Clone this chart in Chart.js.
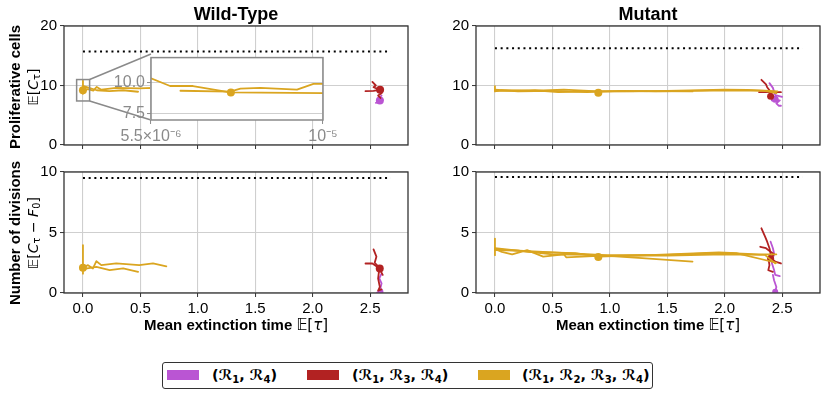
<!DOCTYPE html>
<html><head><meta charset="utf-8">
<script src="https://cdn.jsdelivr.net/npm/chart.js@4.4.0/dist/chart.umd.min.js"></script>
<style>
body{margin:0;background:#fff;}
#fig{position:relative;width:830px;height:398px;overflow:hidden;background:#fff;font-family:"Liberation Sans",Arial,sans-serif;color:#000;}
canvas{position:absolute;}
.t{position:absolute;white-space:nowrap;transform:translate(-50%,-50%);}
.title{font-weight:bold;font-size:18px;}
.xlab{font-weight:bold;font-size:15px;}
.ylab{font-weight:bold;font-size:15px;transform:translate(-50%,-50%) rotate(-90deg);}
.ymath{font-family:"DejaVu Sans",sans-serif;font-size:14px;transform:translate(-50%,-50%) rotate(-90deg);}
.m{font-family:"DejaVu Sans",sans-serif;font-weight:normal;}
.it{font-style:italic;}
sub{font-size:70%;vertical-align:-0.25em;line-height:0;}
#legend{position:absolute;left:162px;top:362px;width:489px;height:25px;border:1.3px solid #333;border-radius:3px;}
.sw{position:absolute;width:32px;height:10px;}
.lt{position:absolute;font-family:"DejaVu Sans",sans-serif;font-weight:bold;font-size:14.5px;white-space:nowrap;transform:translateY(-50%);}
</style></head>
<body>
<div id="fig">
  <canvas id="cTL"></canvas><canvas id="cTR"></canvas><canvas id="cBL"></canvas><canvas id="cBR"></canvas>
  <canvas id="cInset"></canvas>
  <div class="t title" style="left:236px;top:14px;">Wild-Type</div>
  <div class="t title" style="left:648px;top:14px;">Mutant</div>
  <div class="t ylab" style="left:13.5px;top:87px;">Proliferative cells</div>
  <div class="t ymath" style="left:33px;top:87px;">𝔼[<span class="it">C</span><sub>τ</sub>]</div>
  <div class="t ylab" style="left:13.5px;top:233px;">Number of divisions</div>
  <div class="t ymath" style="left:33px;top:233px;">𝔼[<span class="it">C</span><sub>τ</sub> − <span class="it">F</span><sub>0</sub>]</div>
  <div class="t xlab" style="left:236px;top:325px;">Mean extinction time <span class="m">𝔼[<span class="it">τ</span>]</span></div>
  <div class="t xlab" style="left:648px;top:325px;">Mean extinction time <span class="m">𝔼[<span class="it">τ</span>]</span></div>
  <div id="legend"></div>
  <span class="sw" style="left:167px;top:370px;background:#BA55D3"></span>
  <span class="lt" style="left:212px;top:375px;">(ℛ<sub>1</sub>, ℛ<sub>4</sub>)</span>
  <span class="sw" style="left:307px;top:370px;background:#B22222"></span>
  <span class="lt" style="left:352px;top:375px;">(ℛ<sub>1</sub>, ℛ<sub>3</sub>, ℛ<sub>4</sub>)</span>
  <span class="sw" style="left:478px;top:370px;background:#DAA520"></span>
  <span class="lt" style="left:522px;top:375px;">(ℛ<sub>1</sub>, ℛ<sub>2</sub>, ℛ<sub>3</sub>, ℛ<sub>4</sub>)</span>
</div>
<script>
// ---------------- data ----------------
const X_TICKS = [0, 0.5, 1.0, 1.5, 2.0, 2.5];
const X_TICK_LABELS = ['0.0', '0.5', '1.0', '1.5', '2.0', '2.5'];
const Y_TICKS_CELLS = [0, 10, 20];
const Y_TICK_LABELS_CELLS = ['0', '10', '20'];
const Y_TICKS_DIV = [0, 5, 10];
const Y_TICK_LABELS_DIV = ['0', '5', '10'];
const INSET_X_TICKS = [5.5e-6, 1e-5];
const INSET_X_TICK_LABELS = ['5.5×10⁻⁶', '10⁻⁵'];
const INSET_Y_TICKS = [7.5, 10.0];
const INSET_Y_TICK_LABELS = ['7.5', '10.0'];

const thresholdX = [0, 2.68];
const wtCellsThreshold = 15.7;
const mutCellsThreshold = 16.25;
const wtDivThreshold = 9.5;
const mutDivThreshold = 9.58;

// Wild-type, proliferative cells
const wtCellsGoldA = [[0,10.8],[5.5e-6,10.37],[6.0e-6,9.74],[6.6e-6,9.74],[7.57e-6,9.22],[1.0e-5,9.16],[0.04,9.4],[0.09,9.15],[0.12,9.75],[0.16,9.3],[0.29,9.6],[0.49,9.5],[0.61,9.6],[0.73,9.4]];
const wtCellsGoldB = [[6.27e-6,9.35],[7.57e-6,9.28],[7.84e-6,9.53],[8.36e-6,9.59],[9.32e-6,9.45],[9.75e-6,9.92],[0.12,9.2],[0.23,9.05],[0.35,9.2],[0.48,8.95]];
const wtCellsGoldC = [[0,8.6],[1e-6,9.3]];
const wtCellsGoldMark = [7.59e-6, 9.2];
const wtCellsRedA = [[2.46,9.05],[2.53,9.1],[2.587,9.3]];
const wtCellsRedB = [[2.52,10.6],[2.55,10.0],[2.53,9.7],[2.57,9.4],[2.60,8.7],[2.57,8.3],[2.59,7.9]];
const wtCellsRedMark = [2.587, 9.3];
const wtCellsPurpleA = [[2.55,7.1],[2.59,7.3],[2.61,7.6],[2.58,8.0],[2.60,8.3]];
const wtCellsPurpleMark = [2.585, 7.5];

// Wild-type, number of divisions
const wtDivGoldA = [[0,2.1],[0.044,2.3],[0.087,2.03],[0.117,2.63],[0.16,2.3],[0.29,2.44],[0.49,2.3],[0.61,2.44],[0.726,2.2]];
const wtDivGoldB = [[0.01,2.0],[0.117,2.16],[0.233,1.89],[0.35,2.03],[0.48,1.75]];
const wtDivGoldC = [[0,3.96],[1e-6,1.6]];
const wtDivGoldMark = [7.59e-6, 2.08];
const wtDivRedA = [[2.46,2.44],[2.52,2.44],[2.584,2.03]];
const wtDivRedB = [[2.53,3.6],[2.555,3.0],[2.54,2.5],[2.57,2.2],[2.61,1.5]];
const wtDivRedC = [[2.58,2.0],[2.57,1.2],[2.585,0.5],[2.57,0.2],[2.6,0.3]];
const wtDivRedMark = [2.584, 2.03];
const wtDivPurpleA = [[2.6,1.6],[2.58,1.2],[2.6,0.8],[2.59,0.4],[2.6,0.05],[2.56,0.02]];
const wtDivPurpleMark = [2.59, 0.1];

// Mutant, proliferative cells
const mutCellsGoldA = [[0,9.9],[0,9.0],[0.05,9.2],[0.3,9.1],[0.6,9.3],[0.9,9.0],[1.2,9.0],[1.5,9.1],[1.8,9.2],[2.0,9.3],[2.2,9.25],[2.4,9.1],[2.46,9.0]];
const mutCellsGoldB = [[0,9.3],[0.2,9.0],[0.5,9.1],[0.8,8.9],[1.1,9.1],[1.4,9.0],[1.7,9.1],[2.1,9.2],[2.35,9.1],[2.45,8.7]];
const mutCellsGoldC = [[0,9.1],[0.35,9.2],[0.55,8.9],[0.85,9.0],[1.25,9.05],[1.72,9.0]];
const mutCellsGoldMark = [0.9, 8.8];
const mutCellsRedA = [[2.32,10.96],[2.36,10.2],[2.37,9.7],[2.39,9.2],[2.40,8.3],[2.41,7.8]];
const mutCellsRedB = [[2.30,8.87],[2.36,8.9],[2.42,8.87],[2.49,8.87]];
const mutCellsRedMark = [2.40, 8.2];
const mutCellsPurpleA = [[2.39,10.4],[2.42,9.6],[2.43,9.0],[2.44,8.4],[2.50,8.1]];
const mutCellsPurpleB = [[2.41,7.5],[2.48,7.5],[2.45,7.0],[2.47,6.6],[2.49,6.6]];
const mutCellsPurpleMark = [2.44, 7.7];

// Mutant, number of divisions
const mutDivGoldA = [[0,3.65],[0.06,3.4],[0.15,3.2],[0.28,3.55],[0.42,3.0],[0.6,3.2],[0.62,2.95],[0.85,3.05],[1.0,3.1],[1.5,3.15],[1.9,3.3],[2.05,3.3],[2.3,3.2],[2.45,3.2]];
const mutDivGoldB = [[0,3.6],[0.5,3.35],[1.0,3.1],[1.5,3.1],[2.0,3.2],[2.35,3.15],[2.44,2.45]];
const mutDivGoldC = [[0,3.55],[0.2,3.5],[0.5,3.2],[0.85,3.15],[1.25,2.9],[1.72,2.6]];
const mutDivGoldD = [[0,3.7],[0.3,3.4],[0.7,3.3],[0.9,3.0],[1.4,3.15],[1.95,3.35],[2.1,3.3],[2.45,2.5]];
const mutDivGoldE = [[0,4.5],[1e-6,3.13]];
const mutDivGoldMark = [0.9, 2.98];
const mutDivRedA = [[2.32,5.35],[2.35,4.7],[2.37,4.24],[2.39,3.7],[2.40,3.27],[2.38,2.9],[2.39,2.3],[2.38,1.88],[2.42,1.75]];
const mutDivRedB = [[2.31,3.82],[2.36,3.7],[2.40,3.4],[2.43,3.2],[2.40,2.9],[2.44,2.6],[2.49,2.44]];
const mutDivRedMark = [2.40, 2.86];
const mutDivPurpleA = [[2.40,4.24],[2.42,3.7],[2.43,3.27],[2.41,2.5],[2.43,1.9],[2.44,1.5],[2.48,1.4]];
const mutDivPurpleB = [[2.42,1.5],[2.43,1.05],[2.45,0.5],[2.44,0.1],[2.46,0.0]];
const mutDivPurpleMark = [2.44, 0.1];

// ---------------- styling / helpers ----------------
const PURPLE = '#BA55D3', RED = '#B22222', GOLD = '#DAA520';
const GRID = '#cfcfcf', SPINE = '#333333', INSET_GRAY = '#8a8a8a';
const FONT = '"Liberation Sans", Arial, sans-serif';
const X_MIN = -0.165, X_MAX = 2.83;
const INSET_BOX = {left: 151, top: 54, right: 323, bottom: 120};
const ZOOM_RECT = {x0: -0.055, x1: 0.058, y0: 7.4, y1: 11.0};

const pts = arr => arr.map(([x, y]) => ({x, y}));
const lineDs = (arr, color) => ({data: pts(arr), showLine: true, borderColor: color, backgroundColor: color, borderWidth: 1.8, pointRadius: 0, pointHoverRadius: 0, tension: 0, borderJoinStyle: 'round', borderCapStyle: 'round'});
const dotDs = (p, color, r) => ({data: pts([p]), showLine: false, pointRadius: r || 4, pointHoverRadius: r || 4, pointBackgroundColor: color, pointBorderWidth: 0, borderColor: color, backgroundColor: color});
const thrDs = y => ({data: pts(thresholdX.map(x => [x, y])), showLine: true, borderColor: '#000', borderWidth: 2, borderDash: [2, 3.7], pointRadius: 0, pointHoverRadius: 0});

const framePlugin = {
  id: 'frame',
  beforeDraw(chart, args, opts) {
    if (opts.bg) { const a = chart.chartArea, c = chart.ctx; c.save(); c.fillStyle = opts.bg; c.fillRect(a.left, a.top, a.right - a.left, a.bottom - a.top); c.restore(); }
  },
  afterDraw(chart, args, opts) {
    const a = chart.chartArea, c = chart.ctx;
    c.save(); c.strokeStyle = opts.color; c.lineWidth = opts.width;
    c.strokeRect(a.left, a.top, a.right - a.left, a.bottom - a.top); c.restore();
  }
};

function layoutCanvas(id, area, YW, PT, PR, XH) {
  const cv = document.getElementById(id);
  const W = YW + (area.right - area.left) + PR, H = PT + (area.bottom - area.top) + XH;
  cv.width = W; cv.height = H;
  cv.style.left = (area.left - YW) + 'px'; cv.style.top = (area.top - PT) + 'px';
  cv.style.width = W + 'px'; cv.style.height = H + 'px';
  return {cv, offX: area.left - YW, offY: area.top - PT};
}

function scaleCfg(opt) {
  return {
    type: 'linear', min: opt.min, max: opt.max,
    afterBuildTicks: s => { s.ticks = opt.ticks.map(v => ({value: v})); },
    afterFit: s => { if (opt.axis === 'x') s.height = opt.size; else s.width = opt.size; },
    grid: {color: opt.gridColor || GRID, lineWidth: 1.1, drawTicks: true, tickLength: 4, tickColor: opt.tickColor || SPINE, tickWidth: 1},
    border: {display: false},
    ticks: {display: opt.showLabels, color: opt.labelColor || '#000', font: {size: opt.fontSize || 15, family: FONT}, padding: opt.pad || 3, maxRotation: 0, autoSkip: false,
      callback: (v, i) => opt.labels[i]}
  };
}

function mainChart(id, area, yTicks, yLabels, yMax, showX, layers, extraPlugins) {
  const XH = showX ? 34 : 10;
  const {cv, offX, offY} = layoutCanvas(id, area, 48, 12, 14, XH);
  const datasets = layers.map((d, i) => Object.assign(d, {order: layers.length - i}));
  return new Chart(cv, {
    type: 'scatter',
    data: {datasets},
    options: {
      responsive: false, animation: false, devicePixelRatio: 1, events: [],
      layout: {padding: {top: 12, right: 14, left: 0, bottom: 0}},
      plugins: {legend: {display: false}, tooltip: {enabled: false}, frame: {color: SPINE, width: 1.3}, zoomind: {offX, offY}},
      scales: {
        x: scaleCfg({axis: 'x', min: X_MIN, max: X_MAX, ticks: X_TICKS, labels: X_TICK_LABELS, size: XH, showLabels: showX}),
        y: scaleCfg({axis: 'y', min: 0, max: yMax, ticks: yTicks, labels: yLabels, size: 48, showLabels: true})
      }
    },
    plugins: [framePlugin].concat(extraPlugins || [])
  });
}

const zoomIndicator = {
  id: 'zoomind',
  afterDatasetsDraw(chart, args, opts) {
    const c = chart.ctx, xs = chart.scales.x, ys = chart.scales.y;
    const l = xs.getPixelForValue(ZOOM_RECT.x0), r = xs.getPixelForValue(ZOOM_RECT.x1);
    const t = ys.getPixelForValue(ZOOM_RECT.y1), b = ys.getPixelForValue(ZOOM_RECT.y0);
    c.save(); c.strokeStyle = INSET_GRAY; c.lineWidth = 1.5;
    c.strokeRect(l, t, r - l, b - t);
    c.beginPath();
    c.moveTo(r, t); c.lineTo(INSET_BOX.left - opts.offX, INSET_BOX.top - opts.offY);
    c.moveTo(r, b); c.lineTo(INSET_BOX.left - opts.offX, INSET_BOX.bottom - opts.offY);
    c.stroke(); c.restore();
  }
};

// ---------------- charts ----------------
mainChart('cTL', {left: 64, right: 408, top: 26, bottom: 147}, Y_TICKS_CELLS, Y_TICK_LABELS_CELLS, 20, false, [
  thrDs(wtCellsThreshold),
  lineDs(wtCellsPurpleA, PURPLE), dotDs(wtCellsPurpleMark, PURPLE),
  lineDs(wtCellsRedA, RED), lineDs(wtCellsRedB, RED), dotDs(wtCellsRedMark, RED),
  lineDs(wtCellsGoldA, GOLD), lineDs(wtCellsGoldB, GOLD), lineDs(wtCellsGoldC, GOLD), dotDs(wtCellsGoldMark, GOLD)
], [zoomIndicator]);

mainChart('cTR', {left: 476, right: 820, top: 26, bottom: 147}, Y_TICKS_CELLS, Y_TICK_LABELS_CELLS, 20, false, [
  thrDs(mutCellsThreshold),
  lineDs(mutCellsPurpleA, PURPLE), lineDs(mutCellsPurpleB, PURPLE), dotDs(mutCellsPurpleMark, PURPLE, 3.5),
  lineDs(mutCellsRedA, RED), lineDs(mutCellsRedB, RED), dotDs(mutCellsRedMark, RED, 3.5),
  lineDs(mutCellsGoldA, GOLD), lineDs(mutCellsGoldB, GOLD), lineDs(mutCellsGoldC, GOLD), dotDs(mutCellsGoldMark, GOLD)
]);

mainChart('cBL', {left: 64, right: 408, top: 172, bottom: 293}, Y_TICKS_DIV, Y_TICK_LABELS_DIV, 10, true, [
  thrDs(wtDivThreshold),
  lineDs(wtDivPurpleA, PURPLE), dotDs(wtDivPurpleMark, PURPLE, 3),
  lineDs(wtDivRedA, RED), lineDs(wtDivRedB, RED), lineDs(wtDivRedC, RED), dotDs(wtDivRedMark, RED),
  lineDs(wtDivGoldA, GOLD), lineDs(wtDivGoldB, GOLD), lineDs(wtDivGoldC, GOLD), dotDs(wtDivGoldMark, GOLD)
]);

mainChart('cBR', {left: 476, right: 820, top: 172, bottom: 293}, Y_TICKS_DIV, Y_TICK_LABELS_DIV, 10, true, [
  thrDs(mutDivThreshold),
  lineDs(mutDivPurpleA, PURPLE), lineDs(mutDivPurpleB, PURPLE), dotDs(mutDivPurpleMark, PURPLE, 3),
  lineDs(mutDivRedA, RED), lineDs(mutDivRedB, RED), dotDs(mutDivRedMark, RED, 3.5),
  lineDs(mutDivGoldA, GOLD), lineDs(mutDivGoldB, GOLD), lineDs(mutDivGoldC, GOLD), lineDs(mutDivGoldD, GOLD), lineDs(mutDivGoldE, GOLD), dotDs(mutDivGoldMark, GOLD)
]);

// inset
(function () {
  const YW = 46, PT = 8, PR = 24, XH = 26;
  const {cv} = layoutCanvas('cInset', INSET_BOX, YW, PT, PR, XH);
  const layers = [lineDs(wtCellsGoldA, GOLD), lineDs(wtCellsGoldB, GOLD), dotDs(wtCellsGoldMark, GOLD)];
  layers.forEach((d, i) => d.order = layers.length - i);
  new Chart(cv, {
    type: 'scatter',
    data: {datasets: layers},
    options: {
      responsive: false, animation: false, devicePixelRatio: 1, events: [],
      layout: {padding: {top: PT, right: PR, left: 0, bottom: 0}},
      plugins: {legend: {display: false}, tooltip: {enabled: false}, frame: {color: INSET_GRAY, width: 1.5, bg: '#fff'}},
      scales: {
        x: scaleCfg({axis: 'x', min: 5.5e-6, max: 1e-5, ticks: INSET_X_TICKS, labels: INSET_X_TICK_LABELS, size: XH, showLabels: true, labelColor: INSET_GRAY, tickColor: INSET_GRAY, fontSize: 16}),
        y: scaleCfg({axis: 'y', min: 6.93, max: 12.09, ticks: INSET_Y_TICKS, labels: INSET_Y_TICK_LABELS, size: YW, showLabels: true, labelColor: INSET_GRAY, tickColor: INSET_GRAY, pad: 2, fontSize: 16})
      }
    },
    plugins: [framePlugin]
  });
})();
</script>
</body></html>
